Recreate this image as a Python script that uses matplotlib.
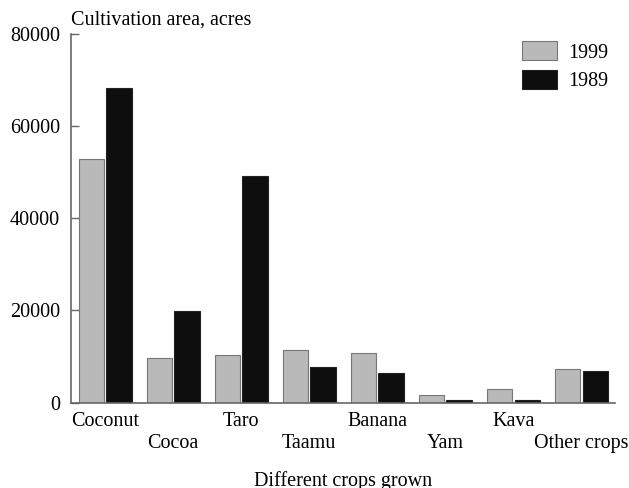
import matplotlib
matplotlib.use("Agg")
import matplotlib.pyplot as plt
import numpy as np

categories = ["Coconut", "Cocoa", "Taro", "Taamu", "Banana", "Yam", "Kava", "Other crops"]
values_1999 = [53000, 9600, 10400, 11400, 10800, 1700, 2900, 7200]
values_1989 = [68400, 19800, 49100, 7800, 6500, 650, 650, 6900]
yticks = [0, 20000, 40000, 60000, 80000]

plt.rcParams['font.family'] = ['Liberation Serif', 'DejaVu Serif']
fs = 14.5

fig = plt.figure(figsize=(6.29, 4.88), dpi=100)
ax = fig.add_axes([0.113, 0.175, 0.865, 0.755])

x = np.arange(len(categories))
w = 0.37
off = 0.205
ax.bar(x - off, values_1999, width=w, color="#b9b9b9", edgecolor="#777777", linewidth=0.8, label="1999")
ax.bar(x + off, values_1989, width=w, color="#0e0e0e", edgecolor="#222222", linewidth=0.8, label="1989")

ax.set_xlim(-0.5, 7.5)
ax.set_ylim(0, 80000)
ax.set_yticks(yticks)
ax.set_yticklabels([str(v) for v in yticks], fontsize=fs)
ax.tick_params(axis='y', direction='in', length=6, width=1, color="#666666", pad=8)
ax.set_xticks([])
for s in ['top', 'right']:
    ax.spines[s].set_visible(False)
for s in ['left', 'bottom']:
    ax.spines[s].set_color("#666666")
    ax.spines[s].set_linewidth(1.2)

# staggered category labels
for i, c in enumerate(categories):
    y = -0.05 if i % 2 == 0 else -0.11
    ax.text(i, y, c, transform=ax.get_xaxis_transform(), ha='center', va='center', fontsize=fs)

ax.text(0.0, 1.012, "Cultivation area, acres", transform=ax.transAxes, ha='left', va='bottom', fontsize=fs)
fig.text(0.545, 0.014, "Different crops grown", ha='center', va='center', fontsize=fs)

leg = ax.legend(loc='upper left', frameon=False, fontsize=fs, handlelength=1.75, handleheight=1.1,
                handletextpad=0.55, labelspacing=0.35, borderpad=0, borderaxespad=0,
                bbox_to_anchor=(522 / 629, 1 - 41 / 488), bbox_transform=fig.transFigure)

fig.savefig("out.png", dpi=100)
